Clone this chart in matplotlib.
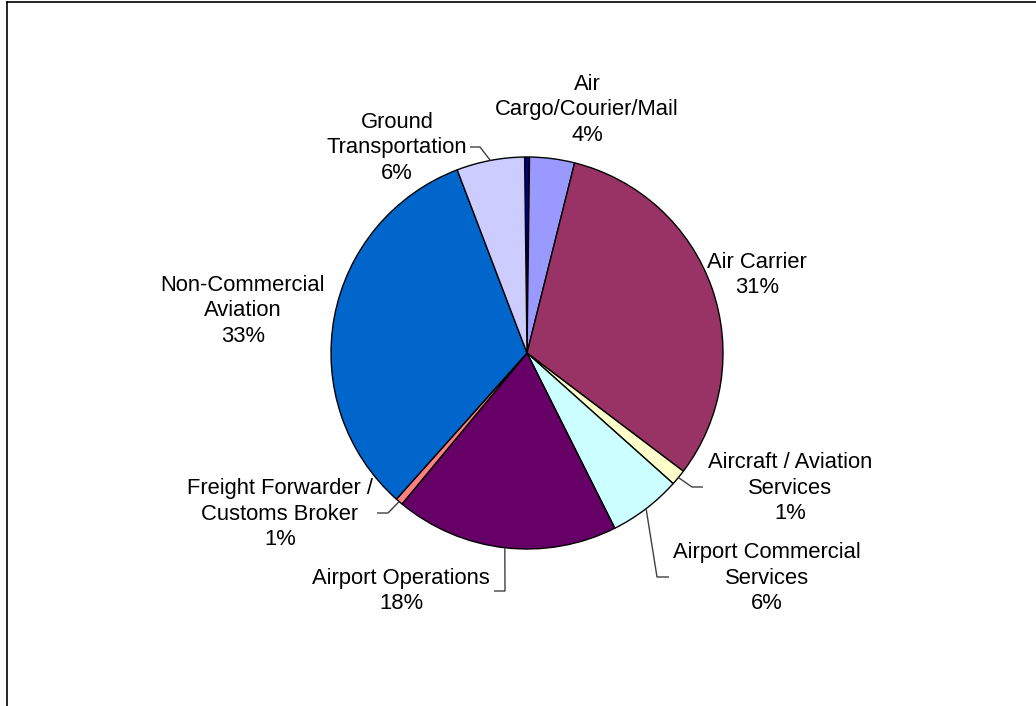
import numpy as np
import matplotlib
matplotlib.use("Agg")
import matplotlib.pyplot as plt
from matplotlib.lines import Line2D

plt.rcParams["font.family"] = ["Liberation Sans", "DejaVu Sans"]

# Share of activity by category (percent), clockwise from the top
categories = [
    "",
    "Air\nCargo/Courier/Mail",
    "Air Carrier",
    "Aircraft / Aviation\nServices",
    "Airport Commercial\nServices",
    "Airport Operations",
    "Freight Forwarder /\nCustoms Broker",
    "Non-Commercial\nAviation",
    "Ground\nTransportation",
]
shares = [0.4, 3.7, 31.4, 1.3, 6.0, 18.4, 0.6, 32.6, 5.6]
colors = ["#000080", "#9999FF", "#993366", "#FFFFCC", "#CCFFFF",
          "#660066", "#FF8080", "#0066CC", "#CCCCFF"]

W, H = 1036, 706
fig = plt.figure(figsize=(W / 100, H / 100), dpi=100)
ax = fig.add_axes([0, 0, 1, 1])
ax.axis("off")

cx, cy, r = 527, H - 353, 196

wedges, _ = ax.pie(shares, colors=colors, startangle=90.7,
                   counterclock=False, center=(cx, cy), radius=r,
                   wedgeprops=dict(edgecolor="black", linewidth=1.0))
ax.set_xlim(0, W)
ax.set_ylim(0, H)
ax.set_aspect("equal")

total = sum(shares)

# label centre (pixels from top-left) and optional leader path (pixels)
label_pos = {
    1: (587, 110),
    2: (757, 275),
    3: (790, 488),
    4: (767, 578),
    5: (401, 591),
    6: (280, 514),
    7: (243, 311),
    8: (397, 148),
}
leader_pts = {
    3: [(692, 487), (703, 487)],
    4: [(657, 577), (669, 577)],
    5: [(505, 591), (494, 591)],
    6: [(388, 513), (377, 513)],
    8: [(480, 147), (470, 147)],
}

for i, w in enumerate(wedges):
    if i not in label_pos:
        continue
    pct = shares[i] / total * 100
    text = f"{categories[i]}\n{pct:.0f}%"
    lx, ly = label_pos[i]
    ax.text(lx, H - ly, text, ha="center", va="center", fontsize=15.8,
            linespacing=1.3, color="black")
    if i in leader_pts:
        mid = np.deg2rad((w.theta1 + w.theta2) / 2)
        ex, ey = cx + r * np.cos(mid), cy + r * np.sin(mid)
        xs = [ex] + [p[0] for p in leader_pts[i]]
        ys = [ey] + [H - p[1] for p in leader_pts[i]]
        ax.plot(xs, ys, color="#404040", linewidth=1.0, solid_capstyle="butt")

# chart-area border (left and top edges)
fig.add_artist(Line2D([6.5 / W, 6.5 / W], [0, 1 - 1.5 / H], transform=fig.transFigure,
                      color="black", linewidth=1.2))
fig.add_artist(Line2D([6.5 / W, 1], [1 - 1.5 / H, 1 - 1.5 / H], transform=fig.transFigure,
                      color="black", linewidth=1.2))

fig.savefig("out.png", dpi=100, facecolor="white")
